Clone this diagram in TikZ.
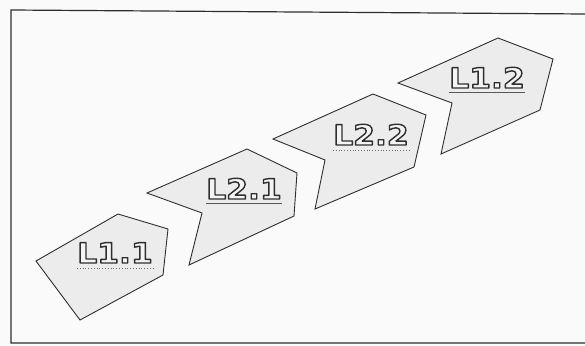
\documentclass[tikz,border=0pt]{standalone}
\usepackage{fontspec}
\setmainfont[FakeStretch=1.12]{DejaVu Sans}
\definecolor{ink}{HTML}{2E2E2E}
\definecolor{shapefill}{HTML}{ECECEC}
\definecolor{paper}{HTML}{FAFAFA}
\definecolor{letterfill}{HTML}{F4F4F4}
\newcommand\outl[1]{\leavevmode{\bfseries\color{letterfill}%
  \special{pdf:literal direct q 0.18 0.18 0.18 RG 2 Tr 1.4 w 1 j}#1\special{pdf:literal direct Q}}}
\begin{document}
\begin{tikzpicture}[x=1pt,y=-1pt,
  chev/.style={draw=ink,fill=shapefill,line width=0.9pt,line join=miter},
  lbl/.style={inner sep=0pt,anchor=base,font=\fontsize{28}{28}\selectfont},
  uline/.style={draw=ink!80,line width=0.7pt},
  wline/.style={draw=ink!70,line width=0.8pt,dotted}]
\useasboundingbox (0,0) rectangle (585,345);
\fill[paper] (0,0) rectangle (585,345);
% frame
\draw[ink,line width=1.2pt] (585,14) -- (11,10) -- (11,343) -- (585,343);
% shapes
\draw[chev] (36,261) -- (118,214) -- (168,229) -- (163,275) -- (80,320) -- cycle;
\draw[chev] (147,193) -- (247,149) -- (297,173) -- (294,216) -- (189,265) -- (202,213) -- cycle;
\draw[chev] (273,139) -- (373,94) -- (426,115) -- (414,167) -- (315,209) -- (325,160) -- cycle;
\draw[chev] (398,83) -- (498,38) -- (553,59) -- (540,110) -- (441,154) -- (452,103) -- cycle;
% labels
\node[lbl] (t11) at (115,263) {\outl{L1.1}};
\node[lbl] (t21) at (244,199) {\outl{L2.1}};
\node[lbl] (t22) at (371,145) {\outl{L2.2}};
\node[lbl] (t12) at (487,88) {\outl{L1.2}};
% underlines
\draw[wline] ([yshift=-5pt]t11.base west) -- ([yshift=-5pt]t11.base east);
\draw[uline] ([yshift=-4pt]t21.base west) -- ([yshift=-4pt]t21.base east);
\draw[wline] ([yshift=-5pt]t22.base west) -- ([yshift=-5pt]t22.base east);
\draw[uline] ([yshift=-4pt]t12.base west) -- ([yshift=-4pt]t12.base east);
\end{tikzpicture}
\end{document}
